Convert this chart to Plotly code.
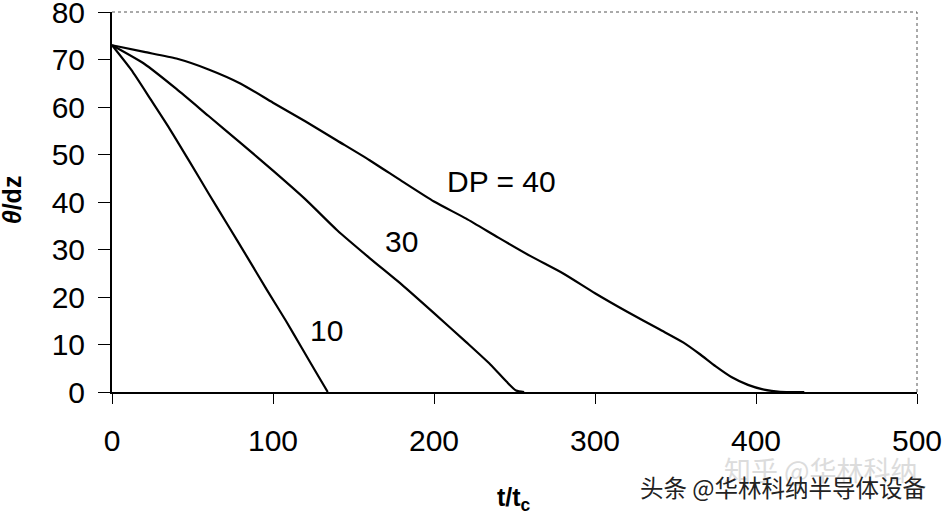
import plotly.graph_objects as go

# DP = 10
x10 = [0, 12, 24, 36, 48, 60, 72, 84, 96, 108, 118, 127, 134]
y10 = [73, 67.8, 61.6, 55.3, 48.6, 41.8, 35.1, 28.4, 21.6, 15.0, 9.2, 4.0, 0]
# DP = 30
x30 = [0, 20, 40, 60, 80, 100, 120, 140, 160, 180, 200, 220, 235, 245, 251, 256]
y30 = [73, 69.1, 63.8, 58.1, 52.4, 46.6, 40.6, 34.0, 28.2, 22.6, 16.6, 10.5, 5.8, 2.2, 0.3, 0]
# DP = 40
x40 = [0, 20, 40, 60, 80, 100, 120, 140, 160, 180, 200, 220, 240, 260, 280, 300,
       320, 340, 355, 365, 375, 385, 395, 405, 415, 430]
y40 = [73, 71.6, 70.2, 67.9, 64.9, 60.9, 57.0, 52.9, 48.8, 44.4, 40.1, 36.5, 32.5,
       28.6, 25.0, 20.8, 16.9, 13.2, 10.4, 8.0, 5.4, 3.1, 1.5, 0.5, 0.05, 0]

labels = ["10", "30", "DP = 40"]
label_x = [133.3, 179.9, 242]
label_y = [13, 31.6, 44.3]

x_ticks = [0, 100, 200, 300, 400, 500]
y_ticks = [0, 10, 20, 30, 40, 50, 60, 70, 80]

FONT = "Liberation Sans, Arial, sans-serif"

fig = go.Figure()
for xs, ys in [(x10, y10), (x30, y30), (x40, y40)]:
    fig.add_trace(go.Scatter(x=xs, y=ys, mode="lines",
                             line=dict(color="black", width=2.2, shape="spline", smoothing=0.6),
                             showlegend=False, hoverinfo="skip"))

for t, ax_, ay_ in zip(labels, label_x, label_y):
    fig.add_annotation(x=ax_, y=ay_, text=t, showarrow=False,
                       font=dict(family=FONT, size=30, color="black"))

fig.update_layout(
    width=943, height=515,
    margin=dict(l=112, r=26, t=12, b=123),
    paper_bgcolor="white", plot_bgcolor="white",
    showlegend=False,
)
fig.update_xaxes(
    range=[0, 500], tickvals=x_ticks, ticktext=[str(v) for v in x_ticks],
    showgrid=False, zeroline=False, automargin=False,
    showline=True, linecolor="black", linewidth=2,
    ticks="outside", ticklen=10, tickwidth=1, tickcolor="black",
    ticklabelstandoff=11, ticklabeloverflow="allow",
    tickfont=dict(family=FONT, size=30, color="black"),
)
fig.update_yaxes(
    range=[0, 80], tickvals=y_ticks, ticktext=[str(v) for v in y_ticks],
    showgrid=False, zeroline=False, automargin=False,
    showline=True, linecolor="black", linewidth=2,
    ticks="outside", ticklen=12, tickwidth=1, tickcolor="black",
    ticklabelstandoff=7, ticklabeloverflow="allow",
    tickfont=dict(family=FONT, size=30, color="black"),
)

# top and right thin borders
fig.add_shape(type="line", xref="paper", yref="paper", x0=0, x1=1, y0=1, y1=1,
              line=dict(color="#555555", width=1, dash="dot"))
fig.add_shape(type="line", xref="paper", yref="paper", x0=1, x1=1, y0=0, y1=1,
              line=dict(color="#555555", width=1, dash="dot"))

# axis titles
fig.add_annotation(xref="paper", yref="paper", x=-0.124, y=0.505,
                   xanchor="center", yanchor="middle",
                   text="<b><i>θ</i>/dz</b>", textangle=-90, showarrow=False,
                   font=dict(family=FONT, size=25, color="black"))
fig.add_annotation(xref="paper", yref="paper", x=0.499, y=-0.282,
                   xanchor="center", yanchor="middle",
                   text="<b>t/t<sub>c</sub></b>", showarrow=False,
                   font=dict(family=FONT, size=25, color="black"))

# watermark
fig.add_annotation(xref="paper", yref="paper", x=1.004, y=-0.205,
                   xanchor="right", yanchor="middle",
                   text="知乎 @华林科纳", showarrow=False,
                   font=dict(family="Noto Sans CJK SC", size=27, color="#dcdcdc"))
fig.add_annotation(xref="paper", yref="paper", x=1.0135, y=-0.25,
                   xanchor="right", yanchor="middle",
                   text="头条 @华林科纳半导体设备", showarrow=False,
                   font=dict(family="Noto Sans CJK SC", size=23.5, color="#222222"))

fig.write_html("out.html",
               config={"displayModeBar": False},
               post_script="document.body.style.margin='0';document.body.style.padding='0';")
